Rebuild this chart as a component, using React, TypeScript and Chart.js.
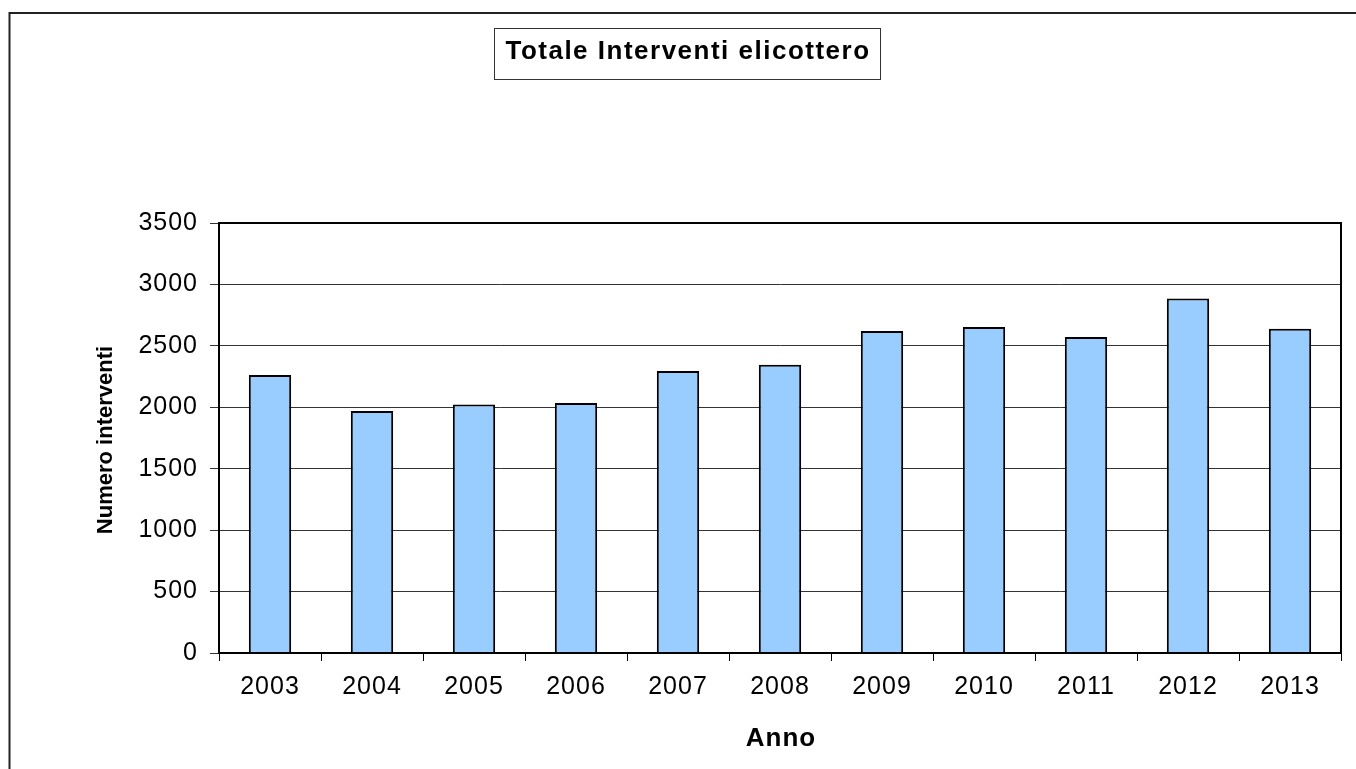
import React, { useEffect, useRef } from "react";
import { Chart, registerables } from "chart.js";

Chart.register(...registerables);

const years = ["2003", "2004", "2005", "2006", "2007", "2008", "2009", "2010", "2011", "2012", "2013"];
const interventi = [2263, 1970, 2022, 2035, 2295, 2347, 2621, 2653, 2572, 2885, 2640];
const chartTitle = "Totale Interventi elicottero";
const yTitle = "Numero interventi";
const xTitle = "Anno";
const yMax = 3500;
const yStep = 500;

const FONT = "'Liberation Sans', Arial, sans-serif";

const decorPlugin = {
  id: "decor",
  beforeDraw(chart: any) {
    (chart.ctx as any).letterSpacing = "1px";
  },
  afterDraw(chart: any) {
    const ctx = chart.ctx as CanvasRenderingContext2D;
    const a = chart.chartArea;
    ctx.save();
    (ctx as any).letterSpacing = "0px";
    // outer frame (top and left edges visible)
    ctx.strokeStyle = "#222";
    ctx.lineWidth = 2;
    ctx.beginPath();
    ctx.moveTo(9.5, 769);
    ctx.lineTo(9.5, 13);
    ctx.lineTo(1356, 13);
    ctx.stroke();
    // plot border
    ctx.strokeStyle = "#000";
    ctx.lineWidth = 2;
    ctx.strokeRect(a.left, a.top, a.right - a.left, a.bottom - a.top);
    // title box
    ctx.lineWidth = 1;
    ctx.strokeStyle = "#333";
    ctx.strokeRect(494.5, 28.5, 386, 51);
    ctx.fillStyle = "#000";
    ctx.textAlign = "center";
    ctx.textBaseline = "alphabetic";
    ctx.font = `bold 26px ${FONT}`;
    (ctx as any).letterSpacing = "1.5px";
    ctx.fillText(chartTitle, 688, 59);
    // x title
    (ctx as any).letterSpacing = "1px";
    ctx.fillText(xTitle, (a.left + a.right) / 2 + 1, 746);
    // y title
    (ctx as any).letterSpacing = "0px";
    ctx.font = `bold 22px ${FONT}`;
    ctx.translate(111.5, (a.top + a.bottom) / 2 + 2);
    ctx.rotate(-Math.PI / 2);
    ctx.fillText(yTitle, 0, 0);
    ctx.restore();
    (ctx as any).letterSpacing = "0px";
  },
};

export default function App() {
  const ref = useRef<HTMLCanvasElement | null>(null);
  useEffect(() => {
    if (!ref.current) return;
    const chart = new Chart(ref.current, {
      type: "bar",
      data: {
        labels: years,
        datasets: [
          {
            data: interventi,
            backgroundColor: "#99CCFF",
            borderColor: "#000",
            borderWidth: 2,
            barPercentage: 0.415,
            categoryPercentage: 1,
          },
        ],
      },
      options: {
        responsive: false,
        animation: false,
        devicePixelRatio: 1,
        layout: { padding: { top: 223, right: 15, left: 0, bottom: 0 } },
        plugins: {
          legend: { display: false },
          title: { display: false },
          tooltip: { enabled: false },
        },
        scales: {
          x: {
            offset: true,
            afterFit: (s: any) => {
              s.height = 116;
            },
            grid: {
              offset: true,
              drawOnChartArea: false,
              drawTicks: true,
              tickLength: 8,
              color: "#000",
              lineWidth: 1,
            },
            border: { display: true, color: "#000", width: 2 },
            ticks: {
              color: "#000",
              font: { family: FONT, size: 25 },
              padding: 11,
              maxRotation: 0,
            },
          },
          y: {
            min: 0,
            max: yMax,
            afterFit: (s: any) => {
              s.width = 219;
            },
            grid: {
              color: "#333",
              lineWidth: 1,
              drawTicks: true,
              tickLength: 9,
            },
            border: { display: true, color: "#000", width: 2 },
            ticks: {
              stepSize: yStep,
              color: "#000",
              font: { family: FONT, size: 25 },
              padding: 12,
              callback: (v: any) => String(v),
            },
          },
        },
      },
      plugins: [decorPlugin],
    });
    return () => chart.destroy();
  }, []);
  return (
    <div style={{ position: "fixed", left: 0, top: 0, width: 1356, height: 769, background: "#fff" }}>
      <canvas ref={ref} width={1356} height={769} style={{ width: 1356, height: 769, display: "block" }} />
    </div>
  );
}
